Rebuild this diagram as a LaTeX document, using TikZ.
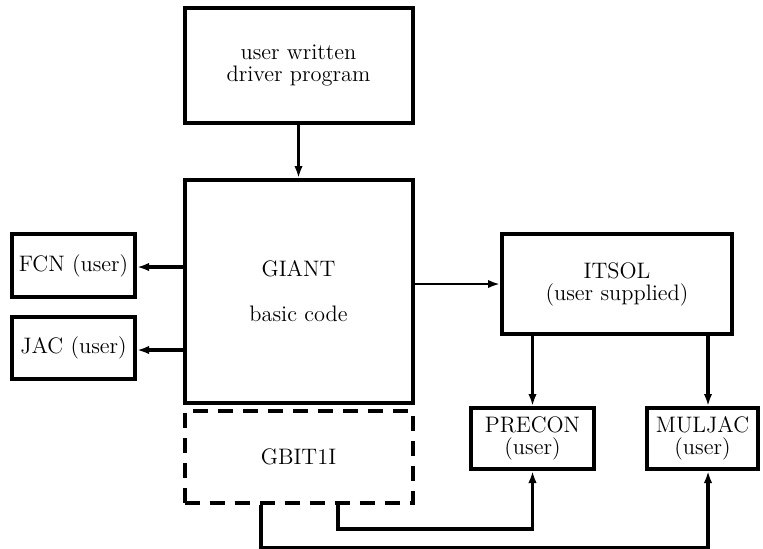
\documentclass[tikz,border=0pt]{standalone}
\usetikzlibrary{arrows.meta}
\begin{document}
\begin{tikzpicture}[x=0.5pt,y=-0.5pt]
\tikzset{
  box/.style={draw, line width=2pt, inner sep=0pt, align=center,
    font=\fontsize{11.2}{11}\selectfont},
  dbox/.style={box, dash pattern=on 7.5pt off 5pt},
  link/.style={line width=1.6pt, -{Latex[length=6pt,width=4.2pt]}},
  thinlink/.style={link, line width=1.2pt},
}
\useasboundingbox (0,0) rectangle (763,548);

% main program blocks
\node[box, minimum width=114pt, minimum height=57.5pt] (driver) at (298.5,65.5)
  {user written\\driver program};
\node[box, minimum width=114pt, minimum height=111.5pt] (giant) at (298.5,291.5)
  {GIANT\\[11.5pt]basic code};
\node[dbox, minimum width=114pt, minimum height=46pt] (gbit) at (298.5,457)
  {GBIT1I};

% user routines
\node[box, minimum width=61.5pt, minimum height=31.5pt] (fcn) at (73.5,265.5)
  {FCN (user)};
\node[box, minimum width=61.5pt, minimum height=31pt] (jac) at (73.5,348)
  {JAC (user)};
\node[box, minimum width=115pt, minimum height=50pt] (itsol) at (617,284)
  {ITSOL\\(user supplied)};
\node[box, minimum width=61.5pt, minimum height=30.5pt] (precon) at (532.5,438.5)
  {PRECON\\(user)};
\node[box, minimum width=55.5pt, minimum height=30.5pt] (muljac) at (702.5,438.5)
  {MULJAC\\(user)};

% guide abscissae for the routed connectors
\coordinate (mjx) at (708,0);
\coordinate (inx) at (338,0);
\coordinate (outx) at (261,0);
\coordinate (fcny) at (0,267);
\coordinate (jacy) at (0,350);

% connectors
\draw[link] (driver.south) -- (giant.north);
\draw[link] (giant.west |- fcny) -- (fcn.east |- fcny);
\draw[link] (giant.west |- jacy) -- (jac.east |- jacy);
\draw[thinlink] (giant.east |- itsol.west) -- (itsol.west);
\draw[link] (itsol.south -| precon.north) -- (precon.north);
\draw[link] (itsol.south -| mjx) -- (muljac.north -| mjx);
\draw[link] (gbit.south -| inx) -- ++(0,24) -| (precon.south);
\draw[link] (gbit.south -| outx) -- ++(0,43) -| (muljac.south -| mjx);
\end{tikzpicture}
\end{document}
